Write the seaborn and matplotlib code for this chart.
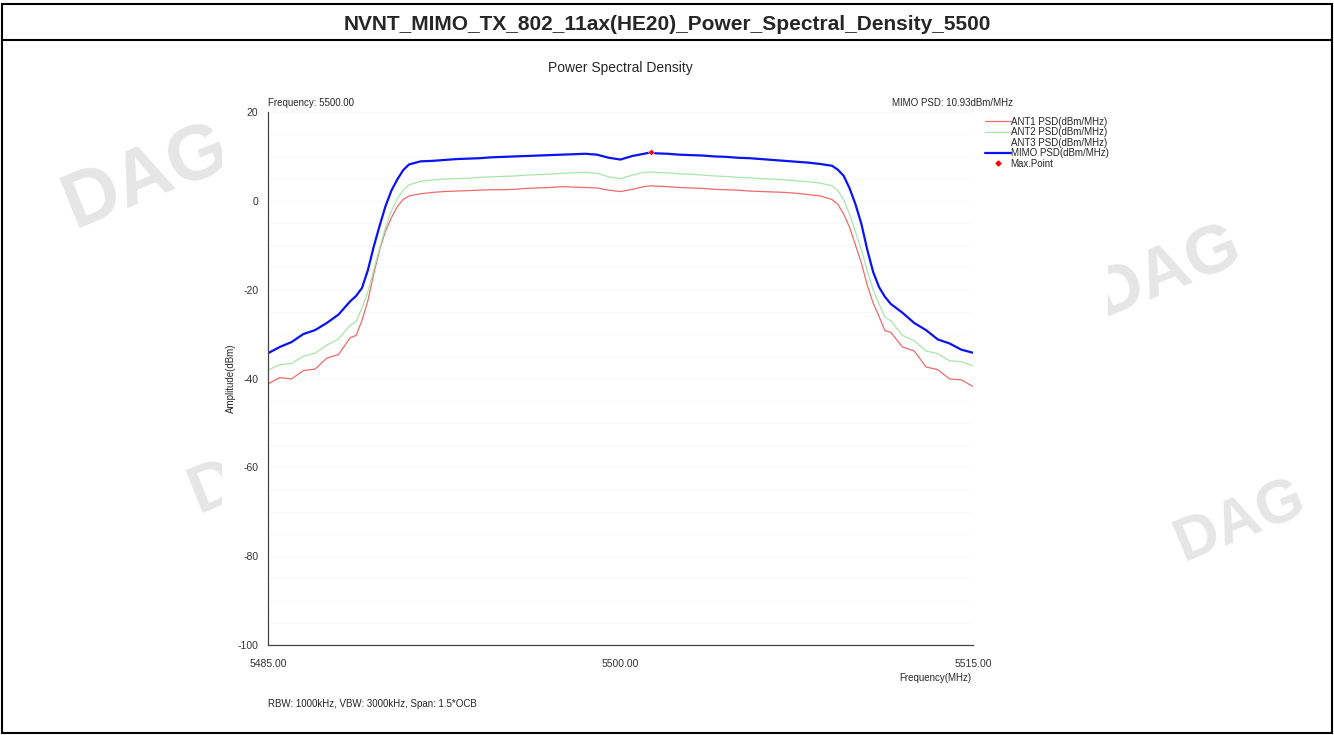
import numpy as np
import pandas as pd
import matplotlib
matplotlib.use("Agg")
import matplotlib.pyplot as plt
from matplotlib.lines import Line2D
from matplotlib.patches import Rectangle
import seaborn as sns

# frequency grid (MHz), denser on the skirts
freq = [5485.0, 5485.5, 5486.0, 5486.5, 5487.0, 5487.5, 5488.0, 5488.5,
        5488.75, 5489.0, 5489.25, 5489.5, 5489.75, 5490.0, 5490.25, 5490.5, 5490.75, 5491.0,
        5491.5, 5492.0, 5492.5, 5493.0, 5493.5, 5494.0, 5494.5, 5495.0, 5495.5, 5496.0,
        5496.5, 5497.0, 5497.5, 5498.0, 5498.5, 5499.0, 5499.5, 5500.0, 5500.5, 5501.0,
        5501.3, 5501.5, 5502.0, 5502.5, 5503.0, 5503.5, 5504.0, 5504.5, 5505.0, 5505.5,
        5506.0, 5506.5, 5507.0, 5507.5, 5508.0, 5508.5, 5509.0,
        5509.25, 5509.5, 5509.75, 5510.0, 5510.25, 5510.5, 5510.75, 5511.0, 5511.25, 5511.5,
        5512.0, 5512.5, 5513.0, 5513.5, 5514.0, 5514.5, 5515.0]

# ANT1 PSD (dBm/MHz)
ant1 = [-41.2, -39.8, -40.1, -38.2, -37.9, -35.4, -34.6, -30.8,
        -30.3, -26.9, -22.5, -16.4, -11.0, -6.8, -3.8, -1.3, 0.3, 1.1,
        1.6, 1.9, 2.1, 2.2, 2.3, 2.4, 2.5, 2.5, 2.6, 2.8,
        2.9, 3.0, 3.2, 3.1, 3.0, 2.9, 2.4, 2.1, 2.6, 3.2,
        3.4, 3.3, 3.2, 3.0, 2.9, 2.8, 2.6, 2.5, 2.4, 2.2,
        2.1, 2.0, 1.9, 1.7, 1.4, 1.1, 0.3,
        -0.8, -3.0, -6.0, -10.0, -14.0, -19.0, -23.0, -26.0, -29.2, -29.6,
        -32.9, -33.8, -37.4, -38.0, -40.1, -40.3, -41.8]

# ANT2 PSD (dBm/MHz)
ant2 = [-38.1, -36.9, -36.6, -35.0, -34.3, -32.5, -31.1, -28.0,
        -27.2, -24.1, -20.5, -15.5, -10.6, -6.0, -2.3, 0.5, 2.4, 3.6,
        4.4, 4.7, 4.9, 5.0, 5.1, 5.3, 5.4, 5.5, 5.6, 5.8,
        5.9, 6.0, 6.2, 6.3, 6.4, 6.2, 5.4, 5.0, 5.8, 6.4,
        6.5, 6.4, 6.3, 6.1, 6.0, 5.8, 5.6, 5.5, 5.3, 5.2,
        5.0, 4.9, 4.7, 4.5, 4.3, 4.0, 3.4,
        2.3, 0.2, -3.0, -7.0, -11.0, -15.8, -20.0, -23.2, -26.2, -27.0,
        -30.3, -31.5, -33.8, -34.4, -36.0, -36.2, -37.1]

# MIMO PSD (dBm/MHz)
mimo = [-34.3, -32.9, -31.8, -30.0, -29.1, -27.5, -25.6, -22.6,
        -21.4, -19.6, -15.6, -10.3, -5.6, -1.2, 2.3, 4.8, 6.9, 8.2,
        8.9, 9.0, 9.2, 9.4, 9.5, 9.6, 9.8, 9.9, 10.0, 10.1,
        10.2, 10.3, 10.4, 10.5, 10.6, 10.4, 9.7, 9.3, 10.1, 10.6,
        10.93, 10.7, 10.6, 10.4, 10.3, 10.2, 10.0, 9.9, 9.7, 9.6,
        9.4, 9.2, 9.0, 8.8, 8.6, 8.3, 7.9,
        7.0, 5.6, 2.8, -0.8, -5.2, -11.0, -16.0, -19.4, -21.6, -23.2,
        -25.2, -27.5, -29.1, -31.2, -32.1, -33.5, -34.2]

max_freq = [5501.3]
max_psd = [10.93]

series_names = ["ANT1 PSD(dBm/MHz)", "ANT2 PSD(dBm/MHz)", "MIMO PSD(dBm/MHz)"]
colors = {"ANT1 PSD(dBm/MHz)": "#f06a6a",
          "ANT2 PSD(dBm/MHz)": "#a8e6a8",
          "MIMO PSD(dBm/MHz)": "#0a14f0"}

df = pd.concat([
    pd.DataFrame({"freq": freq, "psd": ant1, "series": series_names[0]}),
    pd.DataFrame({"freq": freq, "psd": ant2, "series": series_names[1]}),
    pd.DataFrame({"freq": freq, "psd": mimo, "series": series_names[2]}),
])

sns.set_style("white")
plt.rcParams['font.family'] = ['Liberation Sans', 'DejaVu Sans']
plt.rcParams['axes.unicode_minus'] = False

fig = plt.figure(figsize=(13.34, 7.35), dpi=100)

# faint watermarks, partly hidden behind the white chart image
for (wx, wy, fs) in [(0.11, 0.76, 56), (0.875, 0.63, 50), (0.93, 0.29, 44), (0.195, 0.36, 48)]:
    fig.text(wx, wy, "DAG", fontsize=fs, fontweight="bold", color="#e6e6e6",
             rotation=22, ha="center", va="center", zorder=0.1)
fig.add_artist(Rectangle((0.1664, 0.018), 0.664, 0.917, transform=fig.transFigure,
                         fc="white", ec="none", zorder=0.2))

# table border and title row
fig.add_artist(Rectangle((0.0015, 0.003), 0.997, 0.991, transform=fig.transFigure,
                         fill=False, lw=1.5, ec="black", zorder=3))
fig.add_artist(Line2D([0.0015, 0.9985], [0.946, 0.946], transform=fig.transFigure,
                      lw=1.5, color="black", zorder=3))
fig.text(0.5, 0.966, "NVNT_MIMO_TX_802_11ax(HE20)_Power_Spectral_Density_5500",
         ha="center", va="center", fontsize=15, fontweight="bold")

ax = fig.add_axes([0.2009, 0.1224, 0.5285, 0.7252])
ax.set_zorder(1)
ax.patch.set_alpha(0)

sns.lineplot(data=df[df.series != series_names[2]], x="freq", y="psd", hue="series",
             palette=colors, sort=False, estimator=None, lw=0.9, legend=False, ax=ax)
sns.lineplot(data=df[df.series == series_names[2]], x="freq", y="psd", hue="series",
             palette=colors, sort=False, estimator=None, lw=1.6, legend=False, ax=ax)
sns.scatterplot(x=max_freq, y=max_psd, color="red", marker="D", s=10, ax=ax, zorder=5)

ax.set_xlim(5485, 5515)
ax.set_ylim(-100, 20)

xt = [5485, 5488, 5491, 5494, 5497, 5500, 5503, 5506, 5509, 5512, 5515]
ax.set_xticks(xt)
ax.set_xticklabels([f"{v:.2f}" if v in (5485, 5500, 5515) else "" for v in xt])
ax.set_yticks([20, 0, -20, -40, -60, -80, -100])
ax.set_yticks(np.arange(-100, 21, 5), minor=True)
ax.tick_params(axis="both", which="both", direction="out", length=4, width=0.8,
               labelsize=7.5, colors="#333333", pad=3)
ax.tick_params(axis="x", pad=6)

ax.grid(True, which="both", axis="y", color="#f8f8f8", lw=0.6)
ax.grid(False, axis="x")

for s in ["top", "right"]:
    ax.spines[s].set_visible(False)
for s in ["left", "bottom"]:
    ax.spines[s].set_color("#444444")
    ax.spines[s].set_linewidth(0.9)

ax.set_xlabel("")
ax.set_ylabel("")

fig.text(0.465, 0.907, "Power Spectral Density", ha="center", va="center", fontsize=10)
fig.text(0.2009, 0.860, "Frequency: 5500.00", ha="left", va="center", fontsize=7)
fig.text(0.759, 0.860, "MIMO PSD: 10.93dBm/MHz", ha="right", va="center", fontsize=7)
fig.text(0.173, 0.485, "Amplitude(dBm)", ha="center", va="center", rotation=90, fontsize=7)
fig.text(0.701, 0.077, "Frequency(MHz)", ha="center", va="center", fontsize=7)
fig.text(0.2009, 0.042, "RBW: 1000kHz, VBW: 3000kHz, Span: 1.5*OCB", ha="left", va="center", fontsize=7)

handles = [Line2D([], [], color=colors[series_names[0]], lw=0.9),
           Line2D([], [], color=colors[series_names[1]], lw=0.9),
           Line2D([], [], color="white", lw=0.9),
           Line2D([], [], color=colors[series_names[2]], lw=1.6),
           Line2D([], [], color="red", marker="D", ms=2.5, lw=0)]
labels = ["ANT1 PSD(dBm/MHz)", "ANT2 PSD(dBm/MHz)", "ANT3 PSD(dBm/MHz)",
          "MIMO PSD(dBm/MHz)", "Max.Point"]
leg = fig.legend(handles, labels, loc="upper left", bbox_to_anchor=(0.735, 0.848),
                 frameon=False, fontsize=7, handlelength=2.6, handletextpad=0.0,
                 labelspacing=0.05, borderpad=0)
leg.set_zorder(4)

fig.savefig("out.png", dpi=100)
